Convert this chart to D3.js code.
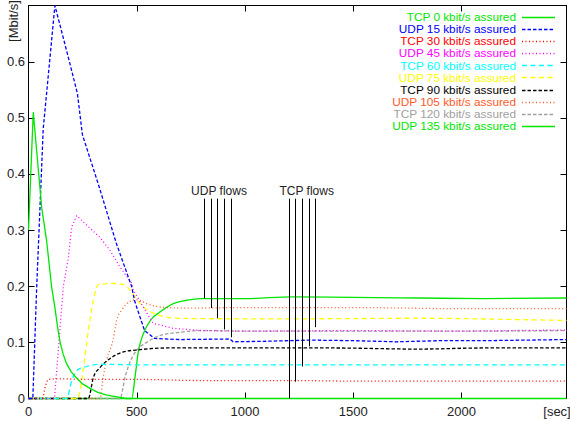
<!doctype html>
<html>
<head>
<meta charset="utf-8">
<title>Assured bandwidth</title>
<script src="https://d3js.org/d3.v7.min.js"></script>
<style>
  body { margin: 0; background: #fff; }
  text { font-family: "Liberation Sans", Arial, Helvetica, sans-serif; }
</style>
</head>
<body>
<div id="chart"></div>
<script>

// series labels, legend order
var names = ["TCP 0 kbit/s assured", "UDP 15 kbit/s assured", "TCP 30 kbit/s assured",
             "UDP 45 kbit/s assured", "TCP 60 kbit/s assured", "UDP 75 kbit/s assured",
             "TCP 90 kbit/s assured", "UDP 105 kbit/s assured", "TCP 120 kbit/s assured",
             "UDP 135 kbit/s assured"];

// [sec, Mbit/s]
var tcp0 = [[0,0.30],[22,0.51],[38,0.44],[61,0.34],[84,0.28],[107,0.198],[122,0.162],[134,0.128],
            [146,0.10],[160,0.079],[176,0.062],[198,0.047],[223,0.036],[250,0.026],[284,0.018],
            [320,0.011],[362,0.006],[423,0.002],[450,0],[2485,0]];
var udp15 = [[0,0],[20,0],[37,0.19],[68,0.48],[122,0.70],[189,0.60],[226,0.543],[249,0.47],
             [328,0.375],[406,0.276],[476,0.20],[490,0.174],[536,0.121],[582,0.107],[700,0.105],
             [930,0.106],[945,0.101],[1100,0.102],[1300,0.104],[1500,0.103],[1700,0.101],
             [1900,0.103],[2100,0.103],[2300,0.104],[2485,0.105]];
var tcp30 = [[0,0],[64,0],[78,0.022],[92,0.034],[130,0.035],[300,0.034],[500,0.034],[800,0.032],
             [1200,0.032],[1500,0.031],[2000,0.031],[2485,0.031]];
var udp45 = [[0,0],[120,0],[161,0.20],[184,0.25],[199,0.305],[223,0.326],[246,0.317],[330,0.287],
             [376,0.264],[423,0.234],[477,0.205],[484,0.193],[575,0.134],[667,0.125],[800,0.121],
             [1000,0.12],[1500,0.121],[2000,0.12],[2485,0.122]];
var tcp60 = [[0,0],[176,0],[200,0.032],[223,0.05],[269,0.057],[330,0.061],[500,0.06],[1000,0.06],
             [1500,0.06],[2000,0.06],[2485,0.06]];
var udp75 = [[0,0],[227,0],[246,0.032],[276,0.12],[300,0.175],[322,0.203],[390,0.205],[440,0.203],
             [469,0.193],[515,0.169],[576,0.152],[685,0.143],[900,0.142],[1300,0.142],[1800,0.143],
             [2200,0.141],[2485,0.139]];
var tcp90 = [[0,0],[276,0],[300,0.038],[330,0.055],[376,0.071],[438,0.083],[515,0.087],[638,0.09],
             [1000,0.09],[1400,0.09],[1800,0.088],[2100,0.09],[2485,0.09]];
var udp105 = [[0,0],[330,0],[345,0.038],[361,0.068],[392,0.107],[407,0.139],[430,0.157],[469,0.173],
              [500,0.176],[546,0.169],[607,0.163],[731,0.161],[1000,0.162],[1500,0.162],
              [2000,0.16],[2485,0.16]];
var tcp120 = [[0,0],[423,0],[446,0.038],[469,0.065],[500,0.086],[546,0.10],[607,0.112],[700,0.118],
              [792,0.121],[1000,0.12],[1500,0.12],[2000,0.12],[2485,0.121]];
var udp135 = [[0,0],[477,0],[492,0.038],[507,0.083],[530,0.115],[569,0.142],[607,0.154],[669,0.169],
              [731,0.175],[792,0.178],[1000,0.178],[1220,0.181],[1500,0.18],[1800,0.179],
              [2100,0.178],[2485,0.179]];
var series = [tcp0, udp15, tcp30, udp45, tcp60, udp75, tcp90, udp105, tcp120, udp135];

// annotation pointers: x in sec, end value in Mbit/s
var udpArrowT = [810, 841, 872, 905, 936];
var udpArrowV = [0.178, 0.161, 0.143, 0.123, 0.109];
var tcpArrowT = [1202, 1233, 1264, 1294, 1325];
var tcpArrowV = [0, 0.03, 0.057, 0.093, 0.127];
var arrowTop = 0.356;

var xTicks = [0, 500, 1000, 1500, 2000];
var yTicks = [0, 0.1, 0.2, 0.3, 0.4, 0.5, 0.6];

var colors = ["#00e600", "#0000ff", "#ff0000", "#ff00ff", "#00ffff",
              "#ffff00", "#000000", "#ff5a28", "#a0a0a0", "#00e600"];
var dashes = [null, "3.5,2", "1,2.5", "1,2.5", "5,3.5", "5,3.5", "3.5,2", "1,2.5", "3.5,2", null];
// sharp peaks stay straight, the knees get smoothed
var sharp = [true, true, false, true, false, false, false, false, false, false];

var W = 570, H = 421;
var plotL = 28.5, plotR = 566.5, plotT = 5.5, plotB = 398.5;

var svg = d3.select("#chart").append("svg")
    .attr("width", W)
    .attr("height", H);

var x = d3.scaleLinear().domain([0, 2485]).range([plotL, plotR]);
var y = d3.scaleLinear().domain([0, 0.7]).range([plotB, plotT]);

// frame
svg.append("rect")
    .attr("x", plotL).attr("y", plotT)
    .attr("width", plotR - plotL).attr("height", plotB - plotT)
    .attr("fill", "none").attr("stroke", "#000");

// ticks (inward, mirrored)
var tk = 6;
xTicks.forEach(function(t){
    var px = Math.round(x(t)) + 0.5;
    if (t > 0) {
        svg.append("line").attr("x1", px).attr("x2", px).attr("y1", plotB).attr("y2", plotB - tk).attr("stroke", "#000");
        svg.append("line").attr("x1", px).attr("x2", px).attr("y1", plotT).attr("y2", plotT + tk).attr("stroke", "#000");
    }
    svg.append("text").attr("x", x(t)).attr("y", 416)
        .attr("text-anchor", "middle").attr("font-size", "13px").attr("fill", "#222").text(t);
});
yTicks.forEach(function(v){
    var py = Math.round(y(v)) + 0.5;
    if (v > 0) {
        svg.append("line").attr("x1", plotL).attr("x2", plotL + tk).attr("y1", py).attr("y2", py).attr("stroke", "#000");
        svg.append("line").attr("x1", plotR).attr("x2", plotR - tk).attr("y1", py).attr("y2", py).attr("stroke", "#000");
    }
    svg.append("text").attr("x", 25).attr("y", y(v) + 4.5)
        .attr("text-anchor", "end").attr("font-size", "13px").attr("fill", "#222").text(v);
});

svg.append("text").attr("transform", "translate(18,21) rotate(-90)")
    .attr("text-anchor", "middle").attr("font-size", "13px").attr("fill", "#222").text("[Mbit/s]");
svg.append("text").attr("x", 557).attr("y", 416)
    .attr("text-anchor", "middle").attr("font-size", "13px").attr("fill", "#222").text("[sec]");

// curves
function makeLine(curve){
    return d3.line()
        .x(function(d){ return x(d[0]); })
        .y(function(d){ return y(d[1]); })
        .curve(curve);
}
var smoothLine = makeLine(d3.curveMonotoneX);
var straightLine = makeLine(d3.curveLinear);

var plot = svg.append("g");
// late green first, so the starved TCP 0 line lies on top along the bottom
var order = [9, 8, 7, 6, 5, 4, 3, 2, 1, 0];
order.forEach(function(i){
    plot.append("path")
        .attr("d", (sharp[i] ? straightLine : smoothLine)(series[i]))
        .attr("fill", "none")
        .attr("stroke", colors[i])
        .attr("stroke-width", 1.3)
        .attr("stroke-dasharray", dashes[i]);
});

// annotation pointers
function pointers(ts, vs){
    ts.forEach(function(t, i){
        var px = Math.round(x(t)) + 0.5;
        svg.append("line")
            .attr("x1", px).attr("x2", px)
            .attr("y1", y(arrowTop)).attr("y2", y(vs[i]))
            .attr("stroke", "#000").attr("stroke-width", 1);
    });
}
pointers(udpArrowT, udpArrowV);
pointers(tcpArrowT, tcpArrowV);

svg.append("text").attr("x", x(880)).attr("y", 195)
    .attr("text-anchor", "middle").attr("font-size", "12px").attr("fill", "#222").text("UDP flows");
svg.append("text").attr("x", x(1285)).attr("y", 195)
    .attr("text-anchor", "middle").attr("font-size", "12px").attr("fill", "#222").text("TCP flows");

// legend
var legend = svg.append("g");
names.forEach(function(n, i){
    var cy = 16.7 + i * 12.15;
    legend.append("text")
        .attr("x", 516).attr("y", cy + 4.3)
        .attr("text-anchor", "end").attr("font-size", "11.8px")
        .attr("fill", colors[i]).text(n);
    legend.append("line")
        .attr("x1", 522).attr("x2", 555)
        .attr("y1", Math.round(cy) + 0.5).attr("y2", Math.round(cy) + 0.5)
        .attr("stroke", colors[i]).attr("stroke-width", 1.3)
        .attr("stroke-dasharray", dashes[i]);
});

</script>
</body>
</html>
